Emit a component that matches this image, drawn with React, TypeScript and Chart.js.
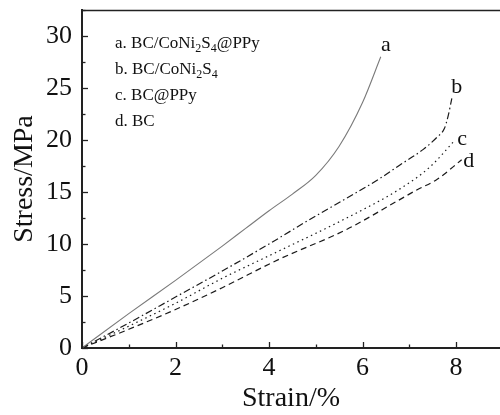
import React, { useEffect, useRef } from "react";
import { Chart, registerables } from "chart.js";

Chart.register(...registerables);

// ---- data ----
const aStrain = [0, 1, 2, 3, 3.5, 4, 4.5, 5, 5.5, 6, 6.39];
const aStress = [0, 3.3, 6.5, 9.8, 11.5, 13.2, 14.8, 16.6, 19.4, 23.6, 28.0];

const bStrain = [0, 1, 2, 3, 4, 5, 5.66, 6.37, 6.8, 7.3, 7.6, 7.75, 7.83, 7.91];
const bStress = [0, 2.4, 4.9, 7.4, 10.0, 12.7, 14.4, 16.3, 17.6, 19.1, 20.3, 21.1, 22.3, 24.0];

const cStrain = [0, 1, 2, 3, 4.2, 5.66, 6.8, 7.44, 7.98];
const cStress = [0, 2.1, 4.3, 6.7, 9.3, 12.5, 15.3, 17.4, 20.0];

const dStrain = [0, 1, 2, 3, 4.2, 5.66, 6.77, 7.16, 7.59, 8.12];
const dStress = [0, 1.8, 3.7, 5.8, 8.5, 11.4, 14.2, 15.2, 16.2, 18.1];

const curveTags = ["a", "b", "c", "d"];
const legendTexts = ["a. BC/CoNi_2S_4@PPy", "b. BC/CoNi_2S_4", "c. BC@PPy", "d. BC"];

const xMin = 0;
const xMax = 8.94;
const xStep = 2;
const yMin = 0;
const yMax = 32.5;
const yStep = 5;

const xTitle = "Strain/%";
const yTitle = "Stress/MPa";

const SERIF = '"Liberation Serif", Tinos, "Times New Roman", Times, serif';

const toPoints = (xs: number[], ys: number[]) => xs.map((x, i) => ({ x, y: ys[i] }));

// label offsets (pixels) relative to each curve's last point
const tagOffsets = [
  [5, -12],
  [5, -11],
  [7, -1],
  [7, 1],
];

const decorPlugin = {
  id: "decor",
  afterDraw(chart: any) {
    const { ctx, chartArea: ca, scales } = chart;
    const x = scales.x;
    const y = scales.y;
    ctx.save();
    ctx.strokeStyle = "#222";
    ctx.lineWidth = 1.5;
    ctx.beginPath();
    ctx.moveTo(ca.left, ca.top + 0.5);
    ctx.lineTo(ca.right, ca.top + 0.5);
    ctx.stroke();

    ctx.lineWidth = 1.3;
    for (let v = xMin; v <= xMax; v += xStep / 2) {
      const px = Math.round(x.getPixelForValue(v)) + 0.5;
      const major = Math.abs(v / xStep - Math.round(v / xStep)) < 1e-6;
      const len = major ? 6 : 3.5;
      ctx.beginPath();
      ctx.moveTo(px, ca.bottom);
      ctx.lineTo(px, ca.bottom - len);
      ctx.stroke();
    }
    for (let v = yMin; v <= yMax + 1e-6; v += yStep / 2) {
      const py = Math.round(y.getPixelForValue(v)) + 0.5;
      const major = Math.abs(v / yStep - Math.round(v / yStep)) < 1e-6;
      const len = major ? 6 : 3.5;
      ctx.beginPath();
      ctx.moveTo(ca.left, py);
      ctx.lineTo(ca.left + len, py);
      ctx.stroke();
    }

    const fs = 17;
    const lx = ca.left + 33;
    const ly0 = ca.top + 38;
    const lgap = 26;
    ctx.fillStyle = "#111";
    ctx.textBaseline = "alphabetic";
    ctx.textAlign = "left";
    legendTexts.forEach((t, i) => {
      let cx = lx;
      const by = ly0 + i * lgap;
      const parts = t.split(/(_\d)/);
      parts.forEach((p: string) => {
        if (!p) return;
        if (p.startsWith("_")) {
          ctx.font = `${Math.round(fs * 0.68)}px ${SERIF}`;
          const s = p.slice(1);
          ctx.fillText(s, cx, by + 4);
          cx += ctx.measureText(s).width;
        } else {
          ctx.font = `${fs}px ${SERIF}`;
          ctx.fillText(p, cx, by);
          cx += ctx.measureText(p).width;
        }
      });
    });

    ctx.font = `22px ${SERIF}`;
    ctx.textAlign = "center";
    ctx.textBaseline = "middle";
    chart.data.datasets.forEach((ds: any, i: number) => {
      const last = ds.data[ds.data.length - 1];
      const px = x.getPixelForValue(last.x) + tagOffsets[i][0];
      const py = y.getPixelForValue(last.y) + tagOffsets[i][1];
      ctx.fillText(curveTags[i], px, py);
    });
    ctx.restore();
  },
};

export default function App() {
  const ref = useRef<HTMLCanvasElement>(null);

  useEffect(() => {
    let chart: any = null;
    let cancelled = false;
    const build = () => {
      if (cancelled || !ref.current) return;
      const lineBase = {
        showLine: true,
        pointRadius: 0,
        borderWidth: 1.2,
        cubicInterpolationMode: "monotone" as const,
        fill: false,
      };
      chart = new Chart(ref.current, {
        type: "scatter",
        data: {
          datasets: [
            { ...lineBase, label: legendTexts[0], data: toPoints(aStrain, aStress), borderColor: "#7a7a7a", borderWidth: 1.1 },
            { ...lineBase, label: legendTexts[1], data: toPoints(bStrain, bStress), borderColor: "#1a1a1a", borderDash: [7, 3, 1.5, 3] },
            { ...lineBase, label: legendTexts[2], data: toPoints(cStrain, cStress), borderColor: "#1a1a1a", borderDash: [1.5, 3.5] },
            { ...lineBase, label: legendTexts[3], data: toPoints(dStrain, dStress), borderColor: "#1a1a1a", borderDash: [6, 4] },
          ],
        },
        options: {
          responsive: false,
          animation: false,
          layout: { padding: { top: 10, right: 0, left: 0, bottom: 0 } },
          plugins: {
            legend: { display: false },
            tooltip: { enabled: false },
          },
          scales: {
            x: {
              type: "linear",
              min: xMin,
              max: xMax,
              grid: { display: false, drawTicks: false },
              border: { display: true, color: "#222", width: 2 },
              ticks: {
                stepSize: xStep,
                includeBounds: false,
                padding: 5,
                color: "#111",
                font: { family: SERIF, size: 26 },
                maxRotation: 0,
              },
              title: {
                display: true,
                text: xTitle,
                color: "#111",
                font: { family: SERIF, size: 28 },
                padding: 0,
              },
              afterFit: (s: any) => {
                s.height = 67;
                s.paddingLeft = 0;
                s.paddingRight = 0;
              },
            },
            y: {
              type: "linear",
              min: yMin,
              max: yMax,
              grid: { display: false, drawTicks: false },
              border: { display: true, color: "#222", width: 2 },
              ticks: {
                stepSize: yStep,
                includeBounds: false,
                padding: 10,
                color: "#111",
                font: { family: SERIF, size: 26 },
              },
              title: {
                display: true,
                text: yTitle,
                color: "#111",
                font: { family: SERIF, size: 28 },
                padding: { top: 8, bottom: 0 },
              },
              afterFit: (s: any) => {
                s.width = 82;
                s.paddingTop = 0;
                s.paddingBottom = 0;
              },
            },
          },
        },
        plugins: [decorPlugin],
      });
    };
    const fonts: any = (document as any).fonts;
    if (fonts && fonts.load) {
      Promise.all([
        fonts.load('26px "Liberation Serif"'),
        fonts.load('17px "Liberation Serif"'),
      ])
        .catch(() => null)
        .then(build);
    } else {
      build();
    }
    return () => {
      cancelled = true;
      if (chart) chart.destroy();
    };
  }, []);

  return (
    <div style={{ position: "fixed", left: 0, top: 0, width: 500, height: 415, background: "#fff" }}>
      <canvas ref={ref} width={500} height={415} style={{ display: "block" }} />
    </div>
  );
}
